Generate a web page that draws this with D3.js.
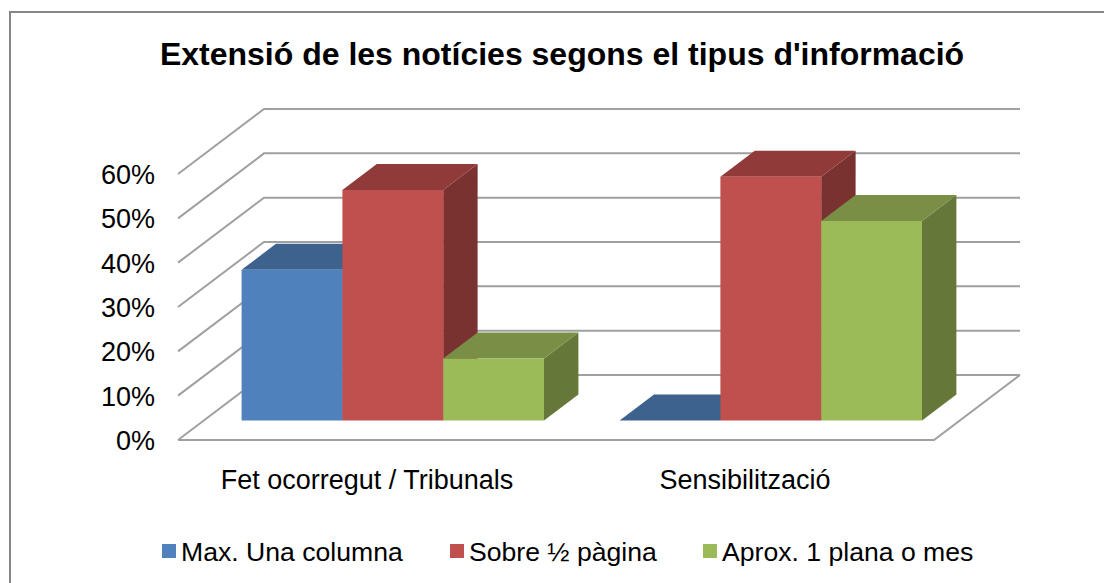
<!DOCTYPE html>
<html>
<head>
<meta charset="utf-8">
<script src="https://cdn.jsdelivr.net/npm/d3@7"></script>
<style>
  html, body { margin: 0; padding: 0; background: #fff; overflow: hidden; }
  text { font-family: "Liberation Sans", Arial, sans-serif; fill: #000; }
</style>
</head>
<body>
<svg width="1104" height="583"></svg>
<script>
var title = "Extensió de les notícies segons el tipus d'informació";
var categories = ["Fet ocorregut / Tribunals", "Sensibilització"];
var seriesNames = ["Max. Una columna", "Sobre ½ pàgina", "Aprox. 1 plana o mes"];
var maxUnaColumna = [0.34, 0];
var sobreMigPagina = [0.52, 0.55];
var aproxUnaPlana = [0.14, 0.45];
var yTicks = [0, 0.1, 0.2, 0.3, 0.4, 0.5, 0.6];

var frontColors = ["#4f81bd", "#c0504d", "#9bbb59"];
var topColors = ["#3d628e", "#903b39", "#788f45"];
var sideColors = ["#33506f", "#7a3230", "#667839"];

var svg = d3.select("svg");
var seriesValues = [maxUnaColumna, sobreMigPagina, aproxUnaPlana];

// front plane scales; the depth vector moves a point towards the back wall
var x = d3.scaleBand().domain(categories).range([178, 934])
  .paddingInner(0.2).paddingOuter(0.1);
var xInner = d3.scaleBand().domain(d3.range(3)).range([0, x.bandwidth()]);
var y = d3.scaleLinear().domain([0, 0.6]).range([440, 174]);
var depthX = d3.scaleLinear().domain([0, 1]).range([0, 86]);
var depthY = d3.scaleLinear().domain([0, 1]).range([0, -65]);
var barFront = 0.3, barBack = 0.7;

function pt(px, v, t) {
  return [px + depthX(t), y(v) + depthY(t)];
}

// the frame runs off the right and bottom of the picture
svg.append("rect")
  .attr("x", 10).attr("y", 12)
  .attr("width", 1110).attr("height", 600)
  .attr("fill", "#fff").attr("stroke", "#868686").attr("stroke-width", 2);

svg.append("text")
  .attr("x", 562).attr("y", 65)
  .attr("text-anchor", "middle")
  .attr("font-size", 32).attr("font-weight", "bold")
  .text(title);

/*
 * Walls and floor
 */
var line = d3.line();
var xLeft = x.range()[0], xRight = x.range()[1];
svg.append("g").selectAll("path")
  .data(yTicks)
  .enter().append("path")
    .attr("fill", "none")
    .attr("stroke", "#a0a0a0")
    .attr("stroke-width", 2)
    .attr("d", function (d) {
      return line([pt(xLeft, d, 0), pt(xLeft, d, 1), pt(xRight, d, 1)]);
    });
svg.append("path")
  .attr("fill", "none")
  .attr("stroke", "#a0a0a0")
  .attr("stroke-width", 2)
  .attr("d", line([pt(xLeft, 0, 0), pt(xRight, 0, 0), pt(xRight, 0, 1)]));

/*
 * Bars: left to right, each front face hides the previous side face
 */
categories.forEach(function (c, ci) {
  var g = svg.append("g");
  seriesNames.forEach(function (s, si) {
    var v = seriesValues[si][ci];
    var x0 = x(c) + xInner(si), x1 = x0 + xInner.bandwidth();
    g.append("path").attr("fill", sideColors[si])
      .attr("d", line([pt(x1, 0, barFront), pt(x1, 0, barBack), pt(x1, v, barBack), pt(x1, v, barFront)]) + "Z");
    g.append("path").attr("fill", topColors[si])
      .attr("d", line([pt(x0, v, barFront), pt(x0, v, barBack), pt(x1, v, barBack), pt(x1, v, barFront)]) + "Z");
    g.append("path").attr("fill", frontColors[si])
      .attr("d", line([pt(x0, 0, barFront), pt(x1, 0, barFront), pt(x1, v, barFront), pt(x0, v, barFront)]) + "Z");
  });
});

/*
 * Axes
 */
var yAxis = svg.append("g")
  .attr("transform", "translate(" + xLeft + ",1)")
  .call(d3.axisLeft(y).tickValues(yTicks).tickSize(0).tickPadding(23).tickFormat(d3.format(".0%")));
yAxis.select(".domain").remove();
yAxis.attr("font-family", null);
yAxis.selectAll("text").attr("font-size", 27).style("fill", "#000");

var xAxis = svg.append("g")
  .attr("transform", "translate(0,470)")
  .call(d3.axisBottom(x).tickSize(0).tickPadding(0));
xAxis.select(".domain").remove();
xAxis.attr("font-family", null);
xAxis.selectAll("text").attr("font-size", 27).attr("dy", "0.71em").style("fill", "#000");

/*
 * Legend
 */
var legendX = [162, 450, 703];
var legend = svg.append("g").selectAll("g")
  .data(seriesNames)
  .enter().append("g")
    .attr("transform", function (d, i) { return "translate(" + legendX[i] + ",544)"; });
legend.append("rect")
  .attr("width", 14).attr("height", 14)
  .attr("fill", function (d, i) { return frontColors[i]; });
legend.append("text")
  .attr("x", 19).attr("y", 17)
  .attr("font-size", 26.6)
  .text(function (d) { return d; });
</script>
</body>
</html>
